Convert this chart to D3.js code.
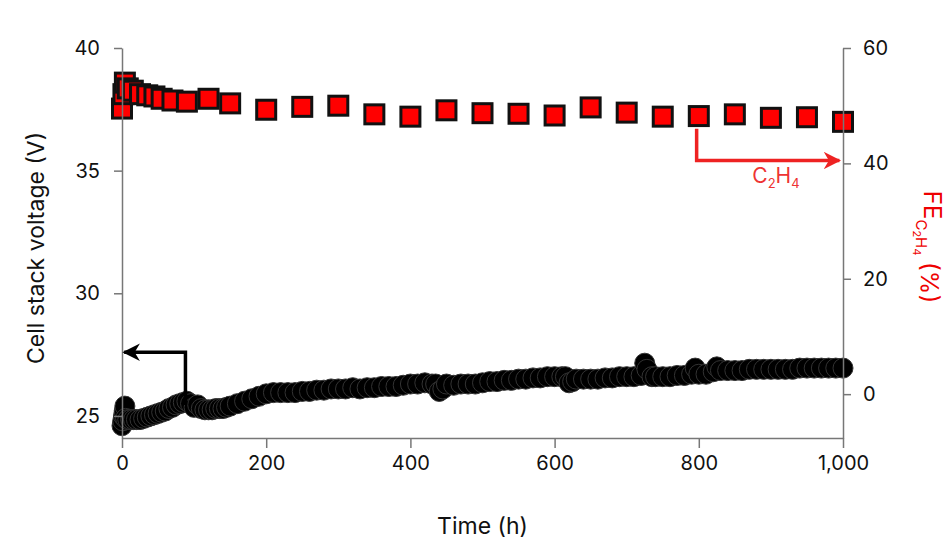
<!DOCTYPE html>
<html><head><meta charset="utf-8">
<script src="https://cdn.jsdelivr.net/npm/d3@7"></script>
<style>body{margin:0;background:#fff;font-family:Inter,"Noto Sans",sans-serif}</style>
</head><body><div id="chart"></div>
<script>
// voltage trace (h, V)
const vTime = [0,1,2,3,4,5,8,12,16,20,25,30,35,40,45,50,55,60,65,70,75,80,85,90,95,100,105,110,115,120,125,130,135,140,145,150,160,170,180,190,200,210,220,230,240,250,260,270,280,290,300,310,320,330,340,350,360,370,380,390,400,410,420,430,435,440,445,450,460,470,480,490,500,510,520,530,540,550,560,570,580,590,600,610,615,620,625,630,640,650,660,670,680,690,700,710,720,725,728,735,740,750,760,770,780,790,795,800,810,820,825,830,840,850,860,870,880,890,900,910,920,930,940,950,960,970,980,990,1000];
const vVal = [24.6,24.8,25.0,25.2,25.4,24.9,24.85,24.85,24.85,24.85,24.85,24.9,24.95,25.0,25.05,25.1,25.15,25.2,25.3,25.35,25.45,25.5,25.55,25.6,25.5,25.35,25.45,25.3,25.25,25.25,25.25,25.3,25.3,25.3,25.35,25.4,25.5,25.6,25.7,25.8,25.9,25.95,25.95,25.95,25.95,26.0,26.0,26.05,26.05,26.1,26.1,26.1,26.15,26.1,26.15,26.15,26.2,26.2,26.2,26.25,26.3,26.3,26.35,26.3,26.3,26.0,26.1,26.3,26.25,26.3,26.3,26.3,26.35,26.4,26.4,26.45,26.45,26.5,26.5,26.55,26.55,26.6,26.6,26.6,26.6,26.35,26.4,26.5,26.5,26.5,26.5,26.55,26.55,26.6,26.6,26.6,26.65,27.15,26.9,26.6,26.6,26.6,26.6,26.65,26.65,26.7,26.95,26.7,26.7,26.8,27.0,26.85,26.85,26.85,26.85,26.9,26.9,26.9,26.9,26.9,26.9,26.9,26.95,26.95,26.95,26.95,26.95,26.95,26.95];
// FE of C2H4 (h, %)
const feTime = [0,2,4,8,15,25,35,45,55,70,90,120,150,200,250,300,350,400,450,500,550,600,650,700,750,800,850,900,950,1000];
const feVal = [49.5,52,54,53,52.6,52,51.8,51.6,51.2,50.9,50.7,51.2,50.4,49.3,49.8,50.0,48.5,48.1,49.2,48.7,48.6,48.3,49.7,48.8,48.1,48.2,48.5,47.9,48.0,47.2];
const xTicks = [0,200,400,600,800,1000];
const vTicks = [25,30,35,40];
const feTicks = [0,20,40,60];

const W = 946, H = 543;
const m = {left:122, right:103, top:48, bottom:105};
const svg = d3.select("#chart").append("svg").attr("width",W).attr("height",H);
const x = d3.scaleLinear().domain([0,1000]).range([m.left, W-m.right]);
const yV = d3.scaleLinear().domain([24.1,40]).range([H-m.bottom, m.top]);
const yF = d3.scaleLinear().domain([-7.6,60]).range([H-m.bottom, m.top]);

const axisStyle = g => {
  g.selectAll("path,line").attr("stroke","#777").attr("stroke-width",1.5);
  g.selectAll("text").attr("font-size",20).attr("fill","#111").attr("font-family","Inter,sans-serif");
};

const plot = svg.append("g");
plot.selectAll("circle").data(vTime).join("circle")
  .attr("cx",(d,i)=>x(d)).attr("cy",(d,i)=>yV(vVal[i])).attr("r",10)
  .attr("fill","#000").attr("stroke","#333").attr("stroke-width",1);

svg.append("g").attr("transform",`translate(0,${H-m.bottom})`)
  .call(d3.axisBottom(x).tickValues(xTicks).tickSizeOuter(0).tickSizeInner(10).tickPadding(8).tickFormat(d3.format(",")))
  .call(axisStyle);
svg.append("g").attr("transform",`translate(${m.left},0)`)
  .call(d3.axisLeft(yV).tickValues(vTicks).tickSizeOuter(0).tickSizeInner(8).tickPadding(14))
  .call(axisStyle);
svg.append("g").attr("transform",`translate(${W-m.right},0)`)
  .call(d3.axisRight(yF).tickValues(feTicks).tickSizeOuter(0).tickSizeInner(8).tickPadding(12))
  .call(axisStyle);

const s = 19;
plot.selectAll("rect").data(feTime).join("rect")
  .attr("x",d=>x(d)-s/2).attr("y",(d,i)=>yF(feVal[i])-s/2).attr("width",s).attr("height",s)
  .attr("fill","#f00").attr("stroke","#111").attr("stroke-width",3);

// arrows
const defs = svg.append("defs");
[["ab","#000"],["ar","#ee2222"]].forEach(([id,c])=>{
  defs.append("marker").attr("id",id).attr("viewBox","0 0 10 10").attr("refX",9).attr("refY",5)
    .attr("markerWidth",5).attr("markerHeight",5).attr("orient","auto")
    .append("path").attr("d","M0,0 L10,5 L0,10 L3,5 Z").attr("fill",c);
});
svg.append("path").attr("d",`M${x(88)},${yV(25.45)} V${yV(27.6)} H${x(3)}`)
  .attr("fill","none").attr("stroke","#000").attr("stroke-width",3.5).attr("marker-end","url(#ab)");
svg.append("path").attr("d",`M${x(797)},${yF(46)} V${yF(40.5)} H${x(995)}`)
  .attr("fill","none").attr("stroke","#ee2222").attr("stroke-width",3.5).attr("marker-end","url(#ar)");
const c2 = svg.append("text").attr("x",x(907)).attr("y",yF(36.6)).attr("text-anchor","middle")
  .attr("fill","#e33").attr("font-size",21);
c2.append("tspan").text("C");
c2.append("tspan").text("2").attr("font-size",13).attr("dy",5);
c2.append("tspan").text("H").attr("dy",-5);
c2.append("tspan").text("4").attr("font-size",13).attr("dy",5);

// axis titles
svg.append("text").attr("transform",`translate(44,${(m.top+H-m.bottom)/2+5}) rotate(-90)`)
  .attr("text-anchor","middle").attr("font-size",23).attr("fill","#111").text("Cell stack voltage (V)");
svg.append("text").attr("x",(m.left+W-m.right)/2).attr("y",534).attr("text-anchor","middle")
  .attr("font-size",23).attr("fill","#111").text("Time (h)");
const rt = svg.append("text").attr("transform",`translate(924,${(m.top+H-m.bottom)/2+4}) rotate(90)`)
  .attr("text-anchor","middle").attr("font-size",24).attr("fill","#e00");
rt.append("tspan").text("FE");
rt.append("tspan").text("C").attr("font-size",15).attr("dy",8);
rt.append("tspan").text("2").attr("font-size",11).attr("dy",3);
rt.append("tspan").text("H").attr("font-size",15).attr("dy",-3);
rt.append("tspan").text("4").attr("font-size",11).attr("dy",3);
rt.append("tspan").text(" (%)").attr("dy",-8);
</script></body></html>
